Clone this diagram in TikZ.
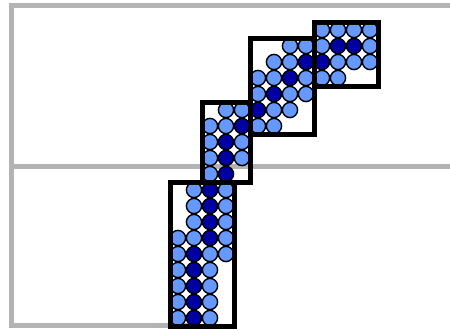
\documentclass[tikz,border=0pt]{standalone}
\usepackage{xcolor}
\definecolor{ltblue}{RGB}{102,153,255}
\definecolor{dkblue}{RGB}{0,0,160}
\definecolor{rulegray}{RGB}{179,179,179}
\begin{document}
\begin{tikzpicture}[x=1pt,y=-1pt,cell/.style={circle,draw=black,line width=1.4pt,inner sep=0pt,minimum size=15.2pt,fill=#1},lt/.style={cell=ltblue},dk/.style={cell=dkblue},frame/.style={draw=black,line width=5pt},rule/.style={draw=rulegray,line width=5pt}]
\useasboundingbox (0,0) rectangle (450,330);
\draw[rule] (450,5.5) -| (11,325.5) -- (200,325.5);
\draw[rule] (11,166) -- (450,166);
\foreach \r/\cells in {0/{0/lt,1/dk,2/lt},1/{0/lt,1/dk,2/lt},2/{0/lt,1/dk,2/lt},3/{0/lt,1/dk,2/lt},4/{0/lt,1/dk,2/lt,3/lt},5/{0/lt,1/lt,2/dk,3/lt},6/{1/lt,2/dk,3/lt},7/{1/lt,2/dk,3/lt},8/{1/lt,2/dk,3/lt},9/{2/lt,3/dk},10/{2/lt,3/dk,4/lt},11/{2/lt,3/dk,4/lt},12/{2/lt,3/lt,4/dk,5/lt,6/lt},13/{3/lt,4/lt,5/dk,6/lt,7/lt},14/{5/lt,6/dk,7/lt,8/lt},15/{5/lt,6/lt,7/dk,8/lt,9/lt,10/lt},16/{6/lt,7/lt,8/dk,9/dk,10/lt,11/lt,12/lt},17/{7/lt,8/lt,9/lt,10/dk,11/dk,12/lt},18/{9/lt,10/lt,11/lt,12/lt}}
  \foreach \c/\k in \cells
    \node[\k] (c\r-\c) at ({178+16*\c},{318-16*\r}) {};
\draw[frame] (170,182) rectangle (234,326);
\draw[frame] (202,102) rectangle (250,182);
\draw[frame] (250,38) rectangle (314,134);
\draw[frame] (314,22) rectangle (378,86);
\end{tikzpicture}
\end{document}
